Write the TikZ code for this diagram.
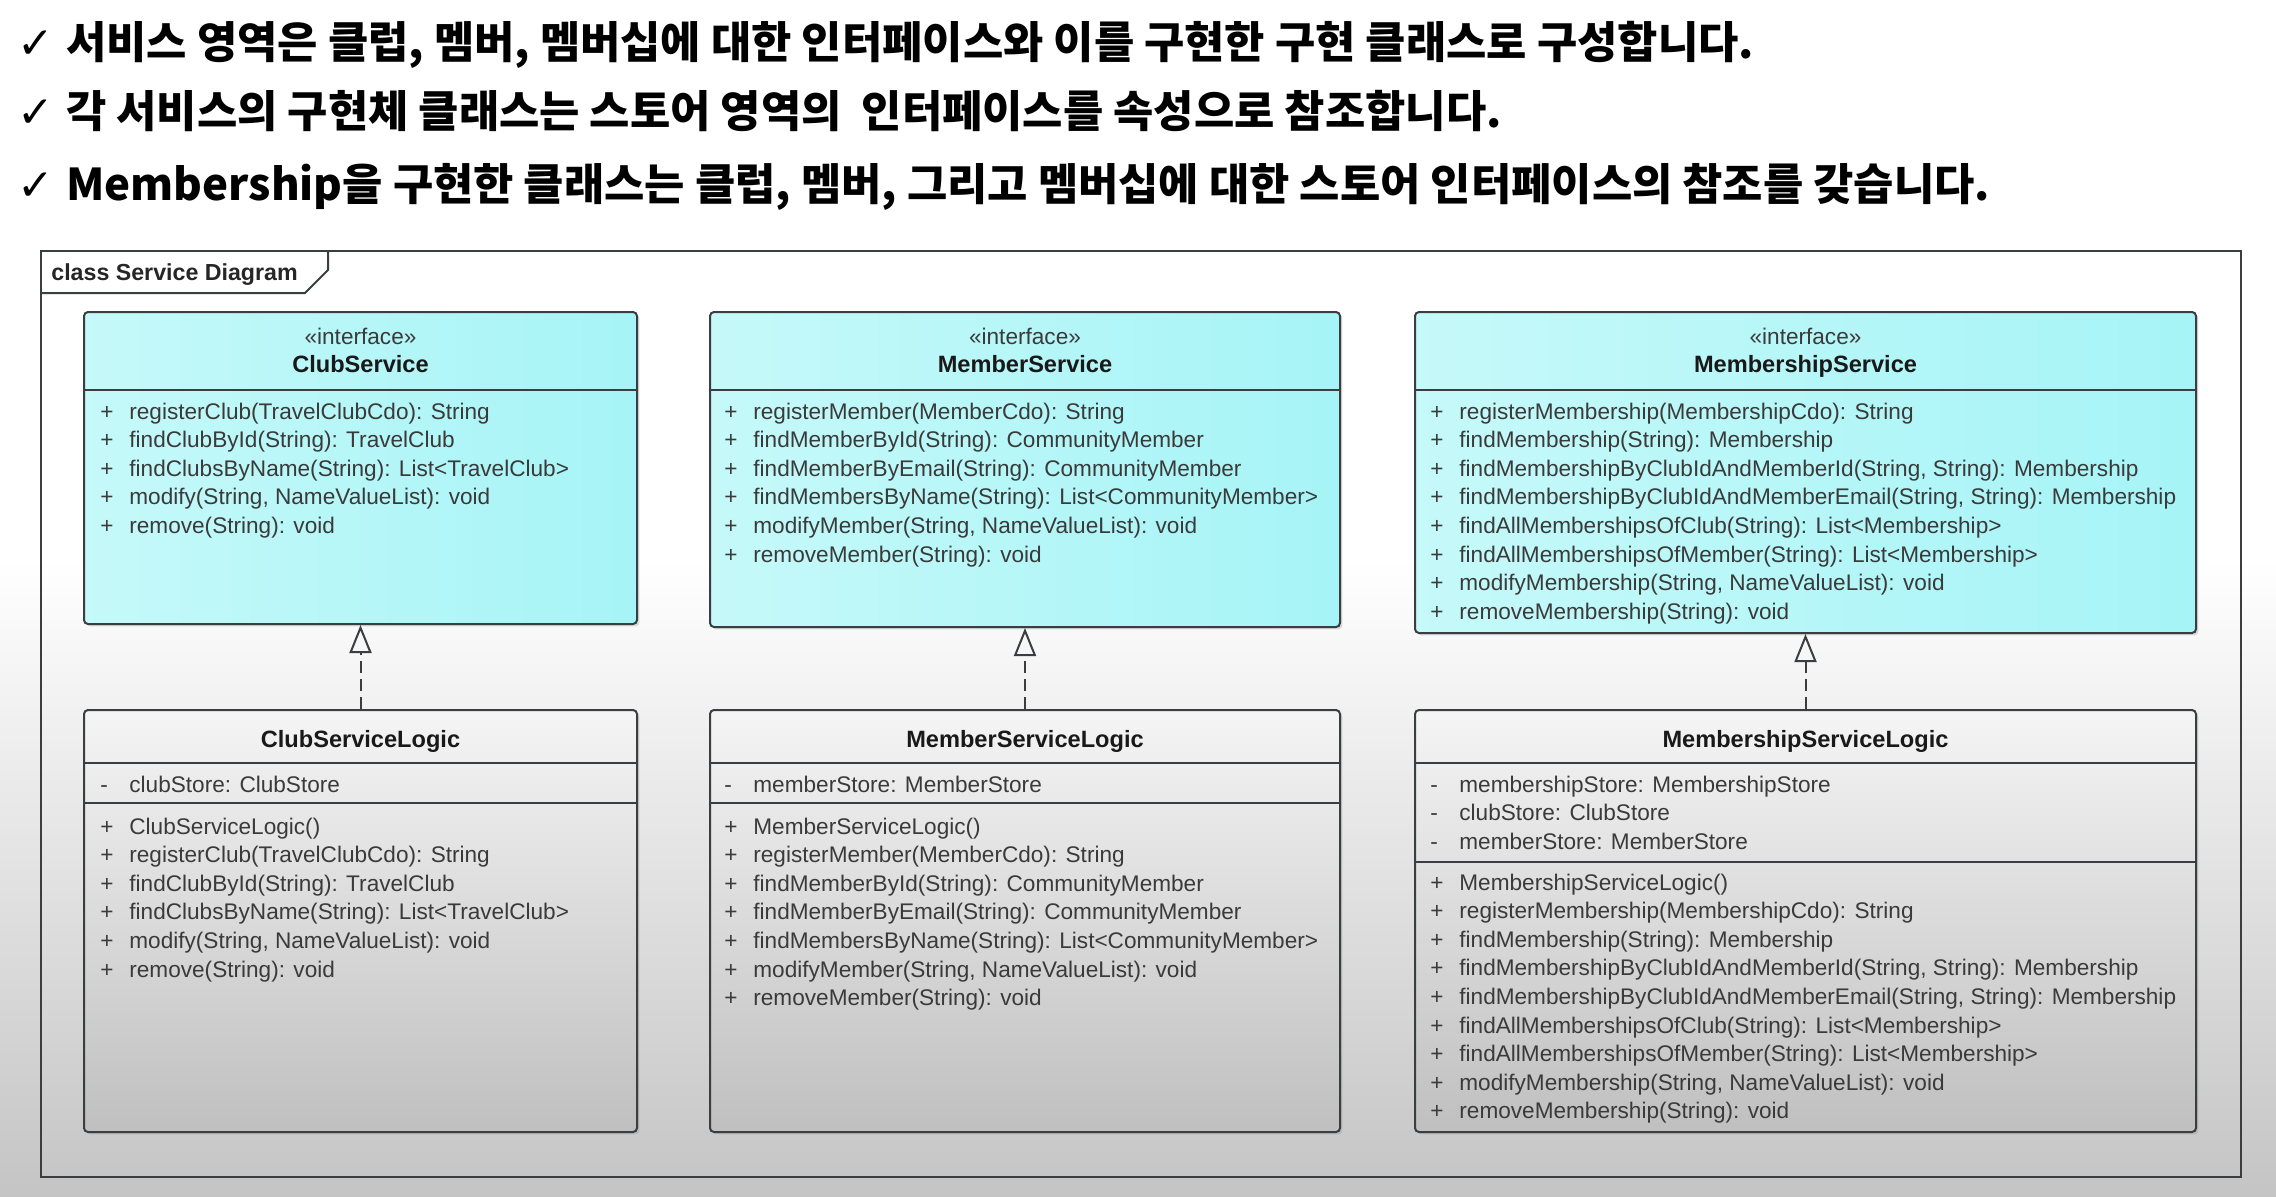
\documentclass[tikz,border=0pt]{standalone}
\usepackage{fontspec}
\setmainfont{Liberation Sans}
\newfontfamily\krfont{Noto Sans CJK KR}
\newfontfamily\checkfont{DejaVu Sans}
\usetikzlibrary{arrows.meta,fit,shadows}

\definecolor{ifacecyan}{RGB}{166,244,247}
\definecolor{ifacelight}{RGB}{198,249,249}
\definecolor{umlline}{RGB}{58,62,64}
\definecolor{membertext}{RGB}{58,58,58}

\begin{document}
\begin{tikzpicture}[x=0.5pt, y=-0.5pt,
  iface/.style={draw=umlline, line width=1pt, rounded corners=2pt, left color=ifacelight, right color=ifacecyan,
    inner sep=0pt, drop shadow={shadow xshift=1.2pt, shadow yshift=-1.2pt, opacity=0.25}},
  logicbox/.style={draw=umlline, line width=1pt, rounded corners=2pt, top color=black!4, bottom color=black!25,
    inner sep=0pt, drop shadow={shadow xshift=1.2pt, shadow yshift=-1.2pt, opacity=0.25}},
  divider/.style={umlline, line width=1pt},
  member/.style={anchor=base west, inner sep=0pt, text=membertext, font=\fontsize{11.3}{13}\selectfont},
  stereo/.style={anchor=base, inner sep=0pt, text=membertext, font=\fontsize{11.3}{13}\selectfont},
  classname/.style={anchor=base, inner sep=0pt, text=black!90, font=\fontsize{11.8}{13}\selectfont\bfseries},
  realize/.style={umlline, line width=1pt, dash pattern=on 6pt off 3pt,
    -{Triangle[open, length=14pt, width=11pt, line width=1pt]}},
  title/.style={anchor=base west, inner sep=0pt, font=\fontsize{21.9}{26}\selectfont}]

\useasboundingbox (0,0) rectangle (2276,1196);
% background
\fill[white] (0,0) rectangle (2276,560);
\shade[top color=white, bottom color=black!23] (0,559) rectangle (2276,1196);

% title lines
\node[title] (line1) at (17,58) {{\checkfont\bfseries ✓} {\krfont\bfseries 서비스 영역은 클럽, 멤버, 멤버십에 대한 인터페이스와 이를 구현한 구현 클래스로 구성합니다.}};
\node[title] (line2) at (17,127) {{\checkfont\bfseries ✓} {\krfont\bfseries 각 서비스의 구현체 클래스는 스토어 영역의~ 인터페이스를 속성으로 참조합니다.}};
\node[title] (line3) at (17,200) {{\checkfont\bfseries ✓} {\krfont\bfseries Membership을 구현한 클래스는 클럽, 멤버, 그리고 멤버십에 대한 스토어 인터페이스의 참조를 갖습니다.}};

% diagram frame
\draw[umlline, line width=1pt] (41,251) rectangle (2241,1177);
\draw[umlline, line width=1pt] (41,293) -- (305,293) -- (328,270) -- (328,251);
\node[anchor=base west, inner sep=0pt, text=black!85, font=\fontsize{11.6}{13}\selectfont\bfseries] (frameLabel) at (51,280) {class Service Diagram};

% boxes
\node[iface, fit={(84,312) (637,624)}] (clubSvc) {};
\node[iface, fit={(710,312) (1340,627)}] (memberSvc) {};
\node[iface, fit={(1415,312) (2196,633)}] (membershipSvc) {};
\node[logicbox, fit={(84,710) (637,1132)}] (clubLogic) {};
\node[logicbox, fit={(710,710) (1340,1132)}] (memberLogic) {};
\node[logicbox, fit={(1415,710) (2196,1132)}] (membershipLogic) {};

% compartments
\foreach \xa/\xb in {84/637, 710/1340, 1415/2196} {
  \draw[divider] (\xa,390) -- (\xb,390);
  \draw[divider] (\xa,763) -- (\xb,763);
}
\draw[divider] (84,803) -- (637,803);
\draw[divider] (710,803) -- (1340,803);
\draw[divider] (1415,862) -- (2196,862);

% headers
\node[stereo] (clubSvcStereo) at (360.5,344) {«interface»};
\node[classname] (clubSvcName) at (360.5,372) {ClubService};
\node[stereo] (memberSvcStereo) at (1025,344) {«interface»};
\node[classname] (memberSvcName) at (1025,372) {MemberService};
\node[stereo] (membershipSvcStereo) at (1805.5,344) {«interface»};
\node[classname] (membershipSvcName) at (1805.5,372) {MembershipService};
\node[classname] (clubLogicName) at (360.5,747) {ClubServiceLogic};
\node[classname] (memberLogicName) at (1025,747) {MemberServiceLogic};
\node[classname] (membershipLogicName) at (1805.5,747) {MembershipServiceLogic};

% ClubService
\foreach \t [count=\i from 0] in {registerClub(TravelClubCdo): String, findClubById(String): TravelClub,
    findClubsByName(String): List<TravelClub>, {modify(String, NameValueList): void}, remove(String): void}
  \node[member] (clubSvcOp\i) at (100,{419+28.6*\i}) {\makebox[14.5pt][l]{+}\t};

% MemberService
\foreach \t [count=\i from 0] in {registerMember(MemberCdo): String, findMemberById(String): CommunityMember,
    findMemberByEmail(String): CommunityMember, findMembersByName(String): List<CommunityMember>,
    {modifyMember(String, NameValueList): void}, removeMember(String): void}
  \node[member] (memberSvcOp\i) at (724,{419+28.6*\i}) {\makebox[14.5pt][l]{+}\t};

% MembershipService
\foreach \t [count=\i from 0] in {registerMembership(MembershipCdo): String, findMembership(String): Membership,
    {findMembershipByClubIdAndMemberId(String, String): Membership},
    {findMembershipByClubIdAndMemberEmail(String, String): Membership},
    findAllMembershipsOfClub(String): List<Membership>, findAllMembershipsOfMember(String): List<Membership>,
    {modifyMembership(String, NameValueList): void}, removeMembership(String): void}
  \node[member] (membershipSvcOp\i) at (1430,{419+28.6*\i}) {\makebox[14.5pt][l]{+}\t};

% ClubServiceLogic
\node[member] (clubLogicAttr0) at (100,792) {\makebox[14.5pt][l]{-}clubStore: ClubStore};
\foreach \t [count=\i from 0] in {ClubServiceLogic(), registerClub(TravelClubCdo): String, findClubById(String): TravelClub,
    findClubsByName(String): List<TravelClub>, {modify(String, NameValueList): void}, remove(String): void}
  \node[member] (clubLogicOp\i) at (100,{834+28.6*\i}) {\makebox[14.5pt][l]{+}\t};

% MemberServiceLogic
\node[member] (memberLogicAttr0) at (724,792) {\makebox[14.5pt][l]{-}memberStore: MemberStore};
\foreach \t [count=\i from 0] in {MemberServiceLogic(), registerMember(MemberCdo): String,
    findMemberById(String): CommunityMember, findMemberByEmail(String): CommunityMember,
    findMembersByName(String): List<CommunityMember>, {modifyMember(String, NameValueList): void},
    removeMember(String): void}
  \node[member] (memberLogicOp\i) at (724,{834+28.6*\i}) {\makebox[14.5pt][l]{+}\t};

% MembershipServiceLogic
\foreach \t [count=\i from 0] in {membershipStore: MembershipStore, clubStore: ClubStore, memberStore: MemberStore}
  \node[member] (membershipLogicAttr\i) at (1430,{792+28.6*\i}) {\makebox[14.5pt][l]{-}\t};
\foreach \t [count=\i from 0] in {MembershipServiceLogic(), registerMembership(MembershipCdo): String,
    findMembership(String): Membership, {findMembershipByClubIdAndMemberId(String, String): Membership},
    {findMembershipByClubIdAndMemberEmail(String, String): Membership},
    findAllMembershipsOfClub(String): List<Membership>, findAllMembershipsOfMember(String): List<Membership>,
    {modifyMembership(String, NameValueList): void}, removeMembership(String): void}
  \node[member] (membershipLogicOp\i) at (1430,{890+28.6*\i}) {\makebox[14.5pt][l]{+}\t};

% realizations
\draw[realize] (clubLogic.north) -- (clubSvc.south);
\draw[realize] (memberLogic.north) -- (memberSvc.south);
\draw[realize] (membershipLogic.north) -- (membershipSvc.south);
\end{tikzpicture}
\end{document}
